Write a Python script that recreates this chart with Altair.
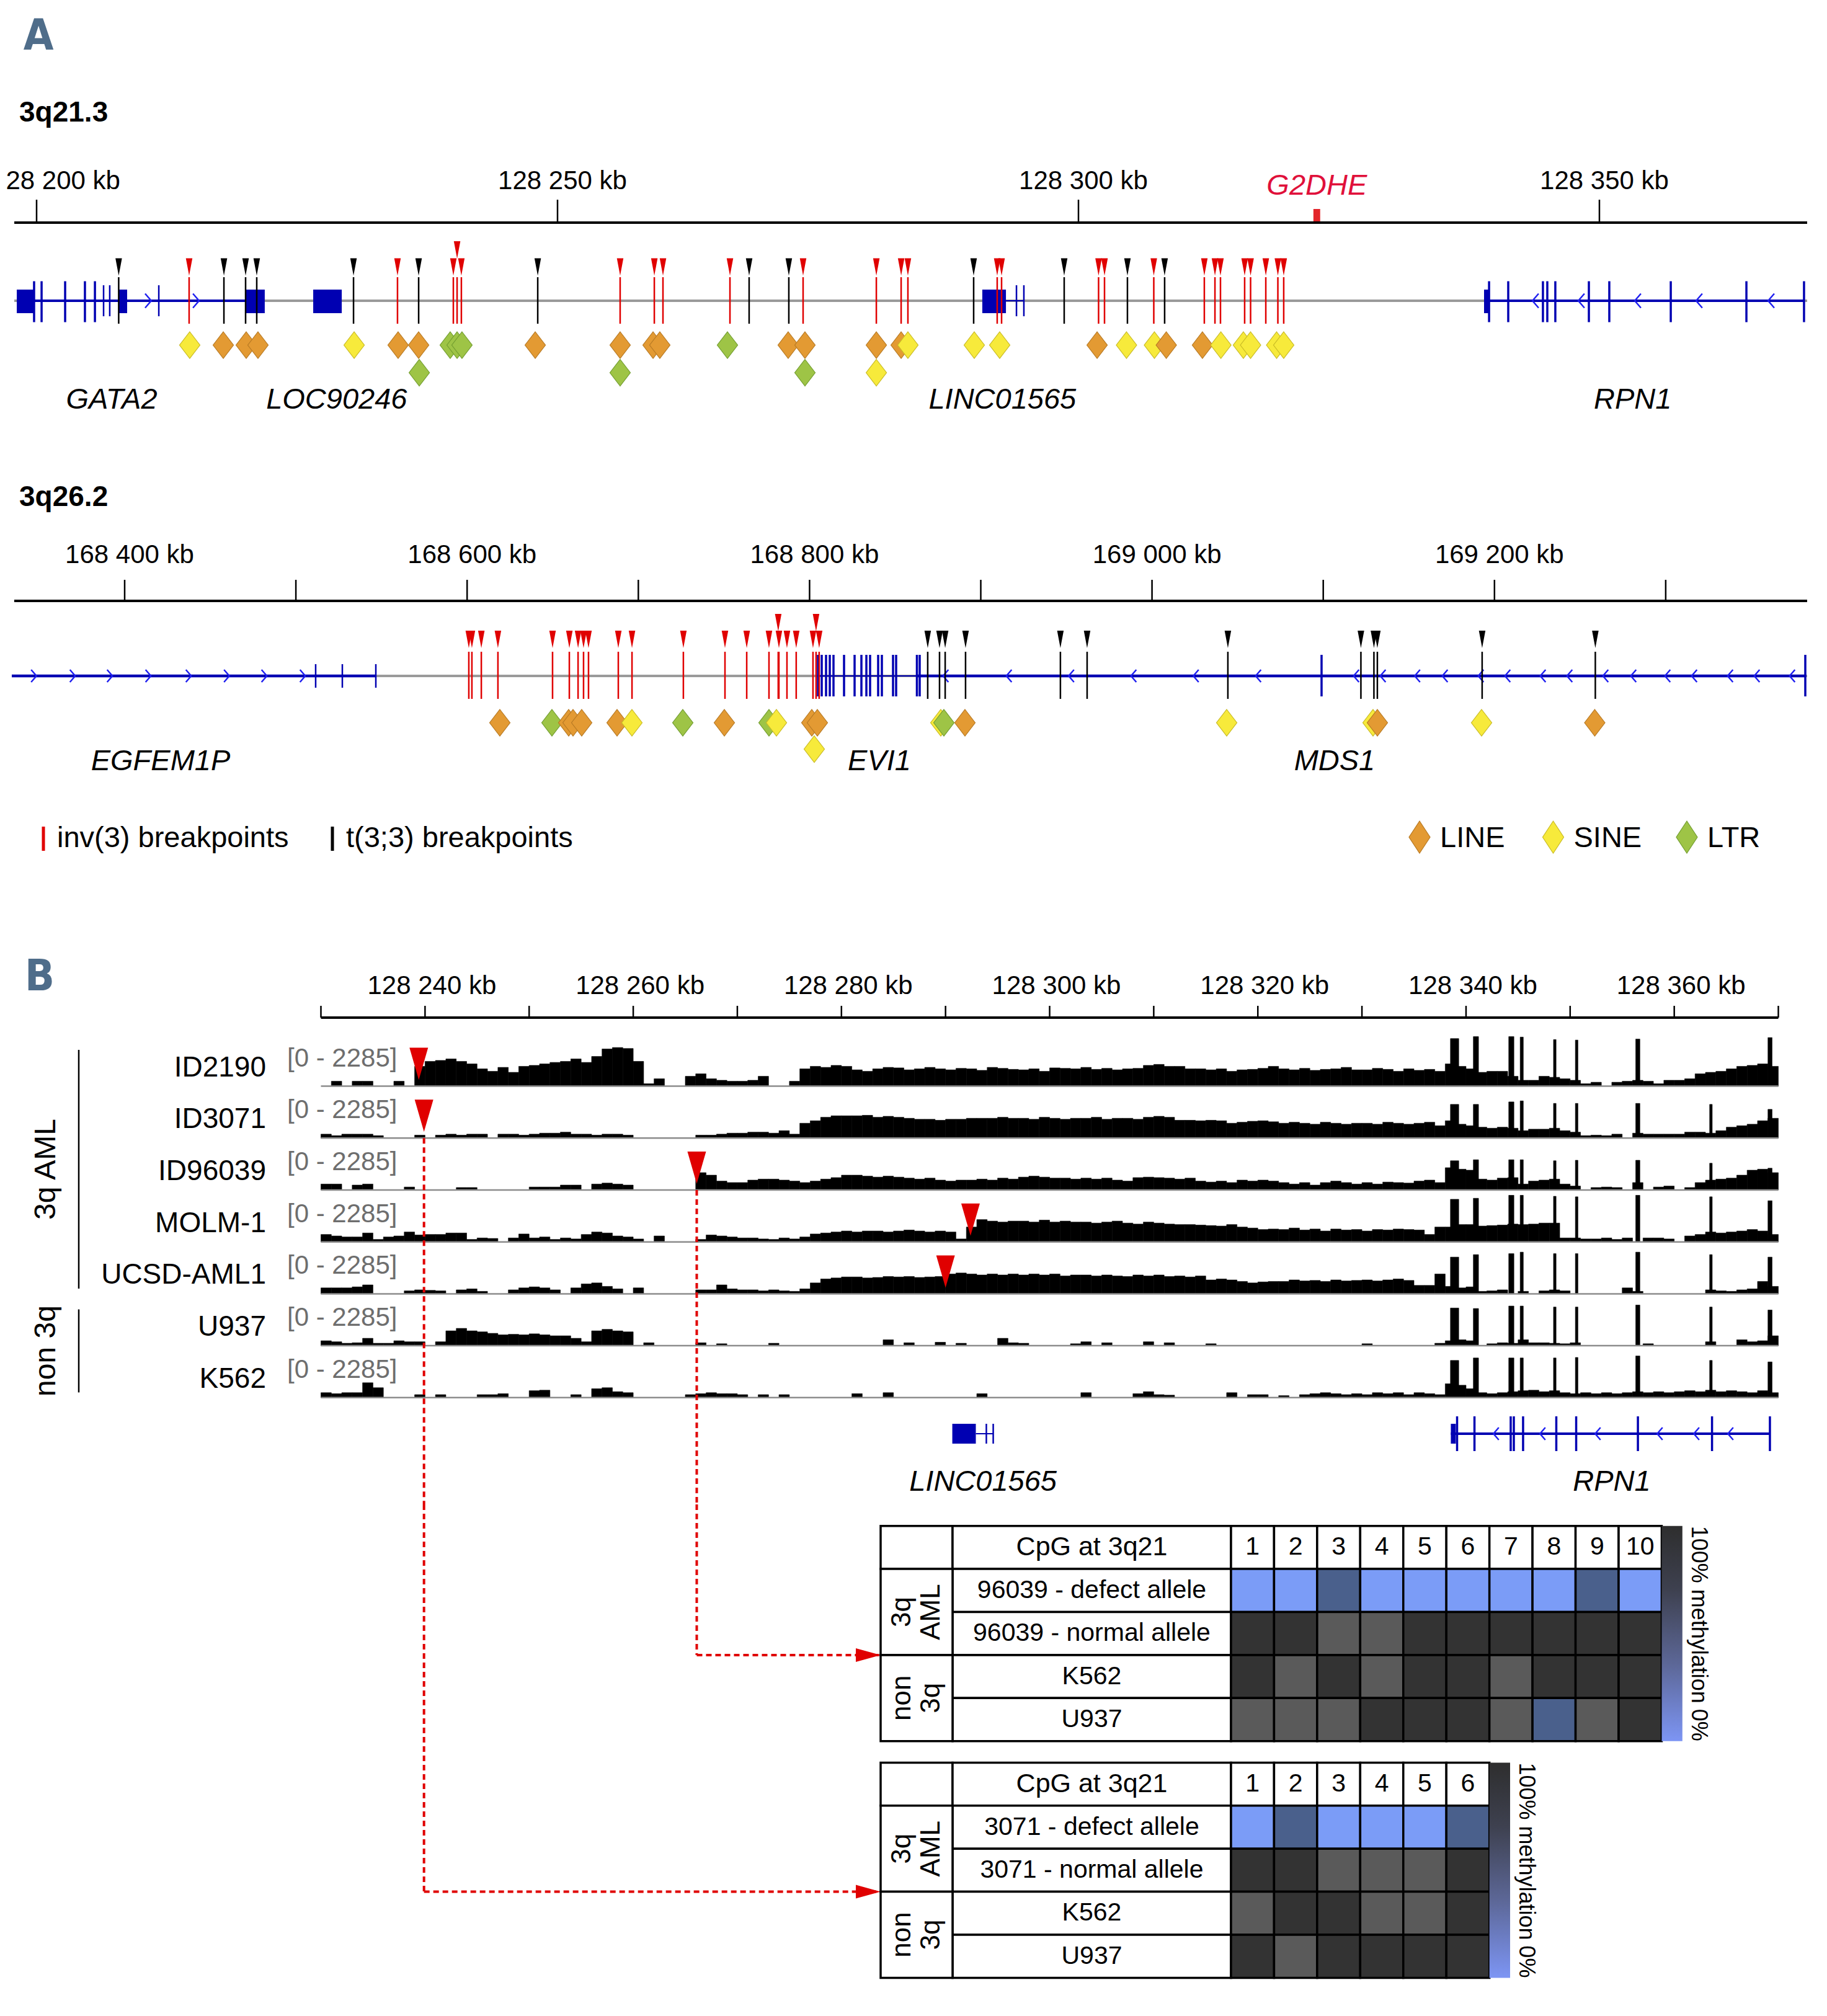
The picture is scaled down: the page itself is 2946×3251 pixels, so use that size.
import altair as alt
import pandas as pd

FONT = "Liberation Sans, Arial, Helvetica, sans-serif"
NARROW = "Liberation Sans Narrow, Arial Narrow, DejaVu Sans Condensed, sans-serif"

# ============================ DATA ============================
PANEL_LETTERS = ["A", "B"]
REGION_TITLES = ["3q21.3", "3q26.2"]
BP_TYPES = ["inv(3)", "t(3;3)"]
BP_LEGEND_TEXT = ["inv(3) breakpoints", "t(3;3) breakpoints"]
REPEAT_CLASSES = ["LINE", "SINE", "LTR"]

# ---------- Panel A, 3q21.3 (kb) ----------
A1_REGION = [128197.86, 128369.94]
A1_TICKS = [128200, 128250, 128300, 128350]
A1_TICK_TEXT = ["128 200 kb", "128 250 kb", "128 300 kb", "128 350 kb"]
A1_ENH_NAME = ["G2DHE"]
A1_ENH_START = [128322.55]
A1_ENH_END = [128323.20]
A1_INV3_KB = [128214.64, 128234.64, 128240.00, 128240.36, 128240.77, 128256.01,
              128259.29, 128260.12, 128266.55, 128273.57, 128280.60, 128282.98,
              128283.63, 128292.20, 128292.62, 128301.93, 128302.50, 128307.23,
              128312.08, 128313.10, 128313.63, 128315.95, 128316.52, 128317.98,
              128319.14, 128319.70]
A1_INV3_TIER = [1, 1, 1, 2, 1, 1, 1, 1, 1, 1, 1, 1, 1,
                1, 1, 1, 1, 1, 1, 1, 1, 1, 1, 1, 1, 1]
A1_T33_KB = [128207.88, 128217.98, 128220.06, 128221.13, 128230.42, 128236.67,
             128248.10, 128268.39, 128272.20, 128289.94, 128298.63, 128304.70,
             128308.27]
A1_T33_TIER = [1, 1, 1, 1, 1, 1, 1, 1, 1, 1, 1, 1, 1]
A1_REP_KB = [128214.70, 128217.92, 128220.12, 128221.25, 128230.48, 128234.70,
             128236.67, 128239.70, 128240.36, 128240.83, 128247.86, 128256.01,
             128259.17, 128259.82, 128266.31, 128272.14, 128273.75, 128280.60,
             128282.98, 128283.63, 128290.00, 128292.44, 128301.79, 128304.61,
             128307.29, 128308.43, 128311.90, 128313.67, 128315.83, 128316.52,
             128319.02, 128319.70,
             128236.73, 128256.01, 128273.75, 128280.60]
A1_REP_CLASS = ["SINE", "LINE", "LINE", "LINE", "SINE", "LINE", "LINE", "LTR", "LTR",
                "LTR", "LINE", "LINE", "LINE", "LINE", "LTR", "LINE", "LINE", "LINE",
                "LINE", "SINE", "SINE", "SINE", "LINE", "SINE", "SINE", "LINE", "LINE",
                "SINE", "SINE", "SINE", "SINE", "SINE",
                "LTR", "LTR", "LTR", "SINE"]
A1_REP_ROW = [1] * 32 + [2, 2, 2, 2]
A1_GENE_NAME = ["GATA2", "LOC90246", "LINC01565", "RPN1"]
A1_GENE_NAME_KB = [128207.2, 128228.8, 128292.7, 128353.2]
A1_INTRON_START = [128198.10, 128338.93]
A1_INTRON_END = [128220.12, 128369.64]
A1_THIN_INTRON_START = [128293.04]
A1_THIN_INTRON_END = [128294.76]
A1_BOX_START = [128198.10, 128207.86, 128220.12, 128226.55, 128290.77, 128338.93]
A1_BOX_END = [128199.76, 128208.69, 128221.90, 128229.29, 128293.04, 128339.35]
A1_EXON_TALL = [128199.76, 128200.48, 128202.74, 128204.64, 128205.60,
                128339.41, 128341.25, 128344.58, 128345.00, 128345.77, 128348.99,
                128350.95, 128356.85, 128364.11, 128369.64]
A1_EXON_SHORT = [128206.43, 128207.02, 128211.73, 128294.05, 128294.76]
A1_STRAND_KB = [128210.71, 128215.30, 128343.87, 128348.27, 128353.69, 128359.58, 128366.49]
A1_STRAND_DIR = ["+", "+", "-", "-", "-", "-", "-"]

# ---------- Panel A, 3q26.2 (kb) ----------
A2_REGION = [168335.5, 169382.6]
A2_TICKS = [168400, 168500, 168600, 168700, 168800, 168900, 169000, 169100, 169200, 169300]
A2_LABEL_TICKS = [168400, 168600, 168800, 169000, 169200]
A2_TICK_TEXT = ["168 400 kb", "168 600 kb", "168 800 kb", "169 000 kb", "169 200 kb"]
A2_INV3_KB = [168601.0, 168602.8, 168608.3, 168618.0, 168649.9, 168659.7, 168664.8,
              168668.0, 168670.9, 168688.3, 168696.3, 168726.3, 168750.6, 168763.3,
              168776.3, 168781.7, 168782.1, 168786.8, 168792.2, 168802.0, 168803.8,
              168805.6]
A2_INV3_TIER = [1, 1, 1, 1, 1, 1, 1, 1, 1, 1, 1, 1, 1, 1, 1, 2, 1, 1, 1, 1, 2, 1]
A2_T33_KB = [168869.0, 168875.9, 168879.2, 168891.1, 168946.5, 168962.1, 169044.3,
             169122.0, 169129.6, 169131.6, 169192.8, 169258.9]
A2_T33_TIER = [1, 1, 1, 1, 1, 1, 1, 1, 1, 1, 1, 1]
A2_REP_KB = [168619.12, 168649.55, 168659.33, 168661.86, 168666.93, 168687.58,
             168696.27, 168725.97, 168750.24, 168776.31, 168780.66, 168801.30,
             168804.56, 168876.64, 168878.45, 168890.76, 169043.61, 169129.08,
             169131.62, 169192.47, 169258.57, 168802.75]
A2_REP_CLASS = ["LINE", "LTR", "LINE", "LINE", "LINE", "LINE", "SINE", "LTR", "LINE",
                "LTR", "SINE", "LINE", "LINE", "SINE", "LTR", "LINE", "SINE", "SINE",
                "LINE", "SINE", "LINE", "SINE"]
A2_REP_ROW = [1] * 21 + [2]
A2_GENE_NAME = ["EGFEM1P", "EVI1", "MDS1"]
A2_GENE_NAME_KB = [168421.0, 168840.8, 169106.6]
A2_INTRON_START = [168334.08, 168862.87]
A2_INTRON_END = [168546.69, 169381.53]
A2_THIN_INTRON_START = [168804.93]
A2_THIN_INTRON_END = [168864.32]
A2_BOX_START = []
A2_BOX_END = []
A2_EXON_TALL = [168804.93, 168807.10, 168809.63, 168811.81, 168813.98, 168820.14,
                168826.30, 168830.28, 168833.18, 168835.35, 168840.06, 168842.23,
                168848.75, 168850.56, 168862.69, 168864.32, 169099.02, 169381.53]
A2_EXON_SHORT = [168511.55, 168527.13, 168546.69]
A2_STRAND_KB = [168346.94, 168369.58, 168391.31, 168413.76, 168437.31, 168459.58,
                168481.49, 168503.95,
                168879.54, 168916.48, 168952.88, 168989.28, 169025.68, 169062.08,
                169119.30, 169134.88, 169154.98, 169171.10, 169192.10, 169207.68,
                169228.32, 169243.90, 169264.90, 169281.20, 169301.12, 169316.70,
                169337.70, 169353.28, 169373.92]
A2_STRAND_DIR = ["+"] * 8 + ["-"] * 21

# ---------- Panel B: coverage tracks over 3q21 ----------
B_REGION = [128230, 128370]
B_TICKS = [128230, 128240, 128250, 128260, 128270, 128280, 128290, 128300,
           128310, 128320, 128330, 128340, 128350, 128360, 128370]
B_LABEL_TICKS = [128240, 128260, 128280, 128300, 128320, 128340, 128360]
B_TICK_TEXT = ["128 240 kb", "128 260 kb", "128 280 kb", "128 300 kb",
               "128 320 kb", "128 340 kb", "128 360 kb"]
SAMPLES = ["ID2190", "ID3071", "ID96039", "MOLM-1", "UCSD-AML1", "U937", "K562"]
SAMPLE_GROUP = ["3q AML", "3q AML", "3q AML", "3q AML", "3q AML", "non 3q", "non 3q"]
TRACK_RANGE_TEXT = "[0 - 2285]"
B_BP_SAMPLE = ["ID2190", "ID3071", "ID96039", "MOLM-1", "UCSD-AML1"]
B_BP_KB = [128239.4, 128239.9, 128266.1, 128292.4, 128290.0]

# coverage in % of the fixed track scale [0 - 2285], 1-kb bins starting at 128230 kb
COV_BIN_START = 128230
COV_BIN_KB = 1
COV_PCT = {
    "ID2190": [0, 10, 0, 10, 10, 0, 0, 10, 0, 40,
               50, 52, 55, 50, 45, 35, 30, 38, 28, 40,
               42, 45, 48, 50, 55, 48, 60, 75, 78, 76,
               50, 5, 15, 0, 0, 20, 25, 15, 12, 10,
               10, 12, 20, 0, 0, 10, 35, 40, 38, 42,
               40, 33, 30, 35, 38, 37, 33, 35, 38, 35,
               33, 36, 35, 32, 38, 36, 34, 33, 35, 30,
               37, 36, 35, 38, 34, 36, 33, 35, 36, 42,
               44, 40, 40, 35, 35, 33, 35, 30, 33, 34,
               36, 40, 35, 33, 36, 32, 34, 35, 38, 33,
               33, 36, 34, 30, 35, 32, 34, 30, 45, 40,
               35, 28, 30, 30, 20, 12, 12, 20, 18, 15,
               12, 5, 8, 0, 8, 10, 12, 10, 5, 12,
               12, 15, 25, 28, 30, 35, 40, 42, 45, 40],
    "ID3071": [8, 5, 8, 8, 8, 5, 0, 0, 0, 6,
               0, 6, 8, 6, 8, 8, 0, 8, 8, 6,
               8, 10, 10, 12, 8, 8, 6, 8, 8, 6,
               0, 0, 0, 0, 0, 0, 6, 6, 8, 10,
               10, 12, 12, 10, 15, 8, 30, 35, 42, 45,
               45, 45, 46, 42, 44, 42, 40, 38, 38, 36,
               38, 38, 40, 40, 40, 42, 40, 40, 38, 42,
               40, 38, 40, 40, 42, 38, 40, 40, 38, 42,
               44, 42, 36, 36, 35, 36, 35, 30, 32, 34,
               35, 33, 30, 32, 30, 28, 32, 30, 28, 30,
               30, 28, 32, 30, 28, 30, 32, 25, 35, 28,
               25, 22, 20, 22, 20, 15, 18, 18, 20, 15,
               12, 5, 6, 5, 8, 0, 10, 8, 8, 8,
               8, 12, 12, 10, 15, 22, 25, 28, 35, 40],
    "ID96039": [12, 12, 0, 10, 12, 0, 0, 0, 6, 0,
                0, 0, 0, 5, 5, 0, 0, 0, 0, 0,
                6, 6, 6, 10, 10, 0, 12, 14, 12, 10,
                0, 0, 0, 0, 0, 0, 35, 30, 18, 15,
                15, 20, 22, 22, 20, 18, 15, 18, 22, 25,
                30, 30, 28, 26, 28, 26, 24, 22, 24, 20,
                18, 20, 20, 22, 20, 24, 22, 26, 28, 26,
                24, 24, 22, 24, 22, 24, 20, 18, 25, 26,
                25, 24, 22, 24, 18, 16, 18, 15, 20, 18,
                20, 18, 15, 12, 15, 10, 15, 18, 15, 12,
                15, 12, 16, 15, 14, 18, 20, 15, 45, 42,
                40, 22, 20, 24, 25, 12, 18, 20, 22, 12,
                8, 0, 5, 6, 5, 0, 15, 0, 6, 8,
                0, 5, 15, 20, 22, 24, 30, 40, 42, 35],
    "MOLM-1": [15, 12, 10, 10, 18, 5, 10, 12, 20, 14,
               15, 15, 18, 18, 5, 8, 7, 0, 8, 16,
               8, 10, 5, 8, 6, 15, 20, 18, 12, 10,
               6, 0, 12, 0, 0, 0, 5, 14, 12, 10,
               8, 8, 6, 5, 8, 6, 10, 16, 18, 20,
               22, 20, 22, 22, 20, 22, 24, 22, 20, 22,
               20, 6, 30, 45, 42, 40, 42, 42, 40, 44,
               40, 42, 40, 40, 38, 40, 42, 38, 36, 40,
               38, 36, 35, 35, 34, 33, 32, 35, 30, 28,
               25, 26, 25, 28, 24, 26, 22, 26, 24, 25,
               22, 25, 24, 26, 25, 24, 15, 30, 30, 35,
               35, 32, 33, 34, 36, 35, 36, 38, 38, 8,
               8, 6, 6, 8, 5, 8, 0, 8, 8, 6,
               0, 12, 15, 20, 18, 20, 22, 25, 22, 15],
    "UCSD-AML1": [12, 12, 12, 14, 18, 0, 0, 0, 6, 8,
                  7, 6, 0, 8, 10, 5, 0, 0, 8, 12,
                  14, 12, 8, 0, 12, 20, 22, 15, 10, 0,
                  12, 0, 0, 0, 0, 0, 8, 8, 18, 10,
                  8, 8, 6, 8, 6, 5, 10, 22, 30, 32,
                  34, 34, 32, 33, 35, 34, 35, 33, 34, 35,
                  40, 42, 40, 38, 40, 38, 40, 38, 40, 38,
                  40, 36, 38, 38, 36, 38, 36, 35, 38, 36,
                  38, 35, 36, 34, 36, 28, 30, 28, 25, 22,
                  24, 25, 25, 28, 26, 27, 25, 28, 26, 27,
                  28, 26, 28, 30, 27, 17, 17, 40, 15, 12,
                  14, 5, 6, 8, 0, 5, 0, 6, 8, 6,
                  0, 0, 0, 0, 0, 12, 5, 0, 0, 0,
                  0, 0, 0, 8, 6, 5, 8, 10, 25, 15],
    "U937": [10, 8, 5, 6, 15, 5, 5, 10, 8, 8,
             0, 8, 30, 35, 30, 28, 25, 22, 23, 22,
             24, 22, 20, 20, 15, 8, 30, 33, 30, 28,
             0, 6, 0, 0, 0, 0, 6, 0, 4, 0,
             0, 0, 0, 5, 0, 0, 0, 0, 0, 0,
             0, 0, 0, 0, 12, 0, 6, 0, 0, 7,
             0, 5, 0, 0, 0, 15, 6, 5, 0, 0,
             0, 0, 4, 8, 0, 6, 0, 0, 0, 8,
             0, 6, 0, 0, 0, 4, 0, 0, 0, 0,
             0, 0, 0, 0, 0, 0, 0, 0, 0, 0,
             4, 0, 0, 0, 0, 0, 0, 5, 10, 12,
             10, 0, 4, 6, 5, 12, 6, 6, 5, 4,
             6, 0, 0, 0, 0, 0, 0, 4, 0, 0,
             0, 0, 0, 8, 0, 0, 12, 8, 10, 20],
    "K562": [10, 8, 10, 10, 30, 20, 0, 0, 0, 6,
             0, 6, 0, 0, 0, 6, 6, 8, 0, 0,
             14, 15, 0, 0, 6, 0, 18, 20, 12, 10,
             0, 0, 0, 0, 0, 6, 8, 10, 8, 8,
             6, 0, 6, 0, 6, 0, 0, 0, 0, 0,
             0, 8, 0, 0, 10, 0, 0, 0, 0, 0,
             0, 0, 0, 8, 0, 0, 0, 0, 0, 0,
             0, 0, 0, 10, 0, 0, 0, 0, 8, 12,
             6, 5, 0, 0, 0, 0, 0, 10, 0, 6,
             6, 0, 4, 0, 6, 8, 10, 8, 6, 8,
             6, 10, 8, 10, 6, 10, 8, 6, 28, 25,
             18, 10, 8, 10, 12, 14, 15, 12, 14, 10,
             8, 10, 8, 10, 8, 10, 12, 10, 12, 10,
             12, 14, 12, 15, 12, 14, 12, 10, 14, 10],
}
# narrow exon peaks (RPN1 exons), kb
SPIKE_START = [128338.50, 128340.70, 128344.10, 128345.20, 128348.40, 128350.50, 128356.30, 128363.40, 128369.00]
SPIKE_END = [128339.30, 128341.20, 128344.60, 128345.50, 128348.65, 128350.75, 128356.70, 128363.65, 128369.40]
SPIKE_PCT = {
    "ID2190": [96, 100, 100, 99, 94, 93, 95, 0, 98],
    "ID3071": [68, 68, 73, 75, 70, 70, 70, 68, 58],
    "ID96039": [59, 61, 61, 61, 59, 60, 60, 54, 44],
    "MOLM-1": [86, 88, 94, 94, 92, 91, 94, 91, 83],
    "UCSD-AML1": [74, 79, 81, 84, 81, 81, 84, 79, 74],
    "U937": [76, 75, 80, 80, 78, 78, 82, 78, 72],
    "K562": [75, 80, 80, 80, 80, 81, 84, 75, 72],
}
B_GENE_NAME = ["LINC01565", "RPN1"]
B_GENE_NAME_KB = [128293.6, 128354.0]
B_INTRON_START = [128338.54]
B_INTRON_END = [128369.19]
B_THIN_INTRON_START = [128292.91]
B_THIN_INTRON_END = [128294.58]
B_BOX_START = [128290.65, 128338.54]
B_BOX_END = [128292.91, 128339.02]
B_EXON_TALL = [128339.14, 128340.81, 128344.29, 128344.59, 128345.48, 128348.67,
               128350.58, 128356.51, 128363.63, 128369.19]
B_EXON_SHORT = [128293.92, 128294.58]
B_STRAND_KB = [128342.89, 128347.36, 128352.66, 128358.62, 128362.14, 128365.41]
B_STRAND_DIR = ["-", "-", "-", "-", "-", "-"]

# ---------- methylation tables ----------
HM_HEADER = "CpG at 3q21"
HM_GROUPS = ["3q AML", "3q AML", "non 3q", "non 3q"]
HM1_ROWS = ["96039 - defect allele", "96039 - normal allele", "K562", "U937"]
HM1_METH = [[0, 0, 35, 0, 0, 0, 0, 0, 35, 0],
            [100, 100, 70, 70, 100, 100, 100, 100, 100, 100],
            [100, 70, 100, 70, 100, 100, 70, 100, 100, 100],
            [70, 70, 70, 100, 100, 100, 70, 35, 70, 100]]
HM2_ROWS = ["3071 - defect allele", "3071 - normal allele", "K562", "U937"]
HM2_METH = [[0, 35, 0, 0, 0, 35],
            [100, 100, 70, 70, 70, 100],
            [70, 100, 100, 70, 70, 100],
            [100, 70, 100, 100, 100, 100]]
CBAR_TOP_TEXT = "100% methylation"
CBAR_BOTTOM_TEXT = "0%"
CONNECT_SAMPLE = ["ID96039", "ID3071"]
CONNECT_TABLE = [0, 1]

# ============================ STYLE / LAYOUT ============================
W = 2930
H_A1, H_A2, H_LEG, H_BT, H_BB = 692, 570, 160, 996, 817
RED = "#E00000"
GENE_BLUE = "#0000B2"
ARROW_BLUE = "#2020F0"
GREY = "#9A9A9A"
SLATE = "#4F6D8A"
BP_COLOR = alt.Scale(domain=BP_TYPES, range=[RED, "#000000"])
REP_FILL = alt.Scale(domain=REPEAT_CLASSES, range=["#E39A33", "#F7EA3B", "#9EC446"])
REP_LINE = alt.Scale(domain=REPEAT_CLASSES, range=["#B87A24", "#C9BB25", "#739E30"])
HM_COLOR = alt.Scale(domain=[0, 35, 70, 100], range=["#7B9CF7", "#4A608C", "#5A5A5A", "#333333"])

TRI_A = "M-0.375,-1L0.375,-1L0,1Z"
TRI_B = "M-0.577,-1L0.577,-1L0,1Z"
DIAMOND = "M0,-1L0.767,0L0,1L-0.767,0Z"
DIAMOND_LEG = "M0,-1L0.654,0L0,1L-0.654,0Z"
CHEV_R = "M-0.43,-1L0.43,0L-0.43,1"
CHEV_L = "M0.43,-1L-0.43,0L0.43,1"
ARROW_R = "M-1,-0.55L1,0L-1,0.55Z"


def kb_domain(anchor_kb, anchor_px, px_per_kb, width_px):
    return [anchor_kb - anchor_px / px_per_kb, anchor_kb + (width_px - anchor_px) / px_per_kb]


def scale_of(dom):
    return alt.Scale(domain=dom, nice=False, zero=False)


def text_at(t, x, y, size, **kw):
    kw.setdefault("font", FONT)
    kw.setdefault("baseline", "middle")
    return alt.Chart(pd.DataFrame({"t": [t]})).mark_text(fontSize=size, **kw).encode(
        x=alt.value(x), y=alt.value(y), text="t:N")


def gene_layers(sc, Y, introns, thin, boxes, tall, short, strands, thick_w):
    X = lambda f: alt.X(f + ":Q", scale=sc, axis=None)
    L = []
    L.append(alt.Chart(introns).mark_rule(color=GENE_BLUE, strokeWidth=thick_w).encode(
        x=X("start"), x2="end:Q", y=alt.value(Y["gene"])))
    L.append(alt.Chart(thin).mark_rule(color=GENE_BLUE, strokeWidth=2).encode(
        x=X("start"), x2="end:Q", y=alt.value(Y["gene"])))
    if len(boxes):
        L.append(alt.Chart(boxes).mark_rect(color=GENE_BLUE).encode(
            x=X("start"), x2="end:Q", y=alt.value(Y["box"][0]), y2=alt.value(Y["box"][1])))
    L.append(alt.Chart(tall).mark_rule(color=GENE_BLUE, strokeWidth=3.5).encode(
        x=X("kb"), y=alt.value(Y["tall"][0]), y2=alt.value(Y["tall"][1])))
    L.append(alt.Chart(short).mark_rule(color=GENE_BLUE, strokeWidth=2.5).encode(
        x=X("kb"), y=alt.value(Y["short"][0]), y2=alt.value(Y["short"][1])))
    L.append(alt.Chart(strands).mark_point(filled=False, opacity=1, strokeWidth=2.5,
                                           color=ARROW_BLUE, size=Y["chev"]).encode(
        x=X("kb"), y=alt.value(Y["gene"]),
        shape=alt.Shape("dir:N", scale=alt.Scale(domain=["+", "-"], range=[CHEV_R, CHEV_L]), legend=None)))
    return L


def region_panel(dom, height, Y, title, region, ticks, lab_ticks, tick_text,
                 inv_kb, inv_tier, t_kb, t_tier, rep_kb, rep_cls, rep_row,
                 introns, thin, boxes, tall, short, strands, names, names_kb,
                 letter=None, enh=None, edge_label_dx=None):
    sc = scale_of(dom)
    X = lambda f: alt.X(f + ":Q", scale=sc, axis=None)
    reg = pd.DataFrame({"start": [region[0]], "end": [region[1]]})
    L = []
    if letter is not None:
        L.append(text_at(letter, 54, 51, 70, font=NARROW, fontWeight="bold", color=SLATE))
    L.append(text_at(title, 23, Y["title"], 46, fontWeight="bold", align="left"))
    L.append(alt.Chart(reg).mark_rule(color="black", strokeWidth=4).encode(
        x=X("start"), x2="end:Q", y=alt.value(Y["axis"])))
    L.append(alt.Chart(pd.DataFrame({"kb": ticks})).mark_rule(color="black", strokeWidth=2.5).encode(
        x=X("kb"), y=alt.value(Y["tick_top"]), y2=alt.value(Y["axis"])))
    labs = pd.DataFrame({"kb": lab_ticks, "label": tick_text})
    if edge_label_dx is not None:
        # the left-most label sits on the cut edge of the figure
        L.append(alt.Chart(labs.iloc[:1]).mark_text(
            font=FONT, fontSize=42, dx=edge_label_dx, baseline="middle", clip=True).encode(
            x=X("kb"), y=alt.value(Y["tick_lab"]), text="label:N"))
        labs = labs.iloc[1:]
    L.append(alt.Chart(labs).mark_text(
        font=FONT, fontSize=42, dx=8, baseline="middle", clip=True).encode(
        x=X("kb"), y=alt.value(Y["tick_lab"]), text="label:N"))
    if enh is not None:
        L.append(alt.Chart(enh).mark_rect(color="#E3262B").encode(
            x=X("start"), x2="end:Q", y=alt.value(Y["enh_top"]), y2=alt.value(Y["axis"] - 2)))
        L.append(alt.Chart(enh).transform_calculate(mid="(datum.start + datum.end) / 2").mark_text(
            font=FONT, fontSize=47, fontStyle="italic", color="#E0103A", baseline="middle").encode(
            x=X("mid"), y=alt.value(Y["enh_lab"]), text="name:N"))
    L.append(alt.Chart(reg).mark_rule(color=GREY, strokeWidth=4).encode(
        x=X("start"), x2="end:Q", y=alt.value(Y["gene"])))
    L += gene_layers(sc, Y, introns, thin, boxes, tall, short, strands, Y["thick"])
    bps = pd.concat([
        pd.DataFrame({"kb": inv_kb, "type": BP_TYPES[0], "tier": inv_tier}),
        pd.DataFrame({"kb": t_kb, "type": BP_TYPES[1], "tier": t_tier})], ignore_index=True)
    col = alt.Color("type:N", scale=BP_COLOR, legend=None)
    L.append(alt.Chart(bps).mark_rule(strokeWidth=2.5).encode(
        x=X("kb"), y=alt.value(Y["bp"][0]), y2=alt.value(Y["bp"][1]), color=col))
    L.append(alt.Chart(bps).mark_point(shape=TRI_A, size=784, filled=True, opacity=1, strokeWidth=0).encode(
        x=X("kb"), color=col,
        y=alt.Y("tier:Q", scale=alt.Scale(domain=[1, 2], range=list(Y["tier"]), nice=False, zero=False), axis=None)))
    reps = pd.DataFrame({"kb": rep_kb, "cls": rep_cls, "row": rep_row})
    L.append(alt.Chart(reps).mark_point(shape=DIAMOND, size=1849, filled=True, opacity=1, strokeWidth=1.2).encode(
        x=X("kb"),
        y=alt.Y("row:Q", scale=alt.Scale(domain=[1, 2], range=list(Y["rep"]), nice=False, zero=False), axis=None),
        fill=alt.Fill("cls:N", scale=REP_FILL, legend=None),
        stroke=alt.Stroke("cls:N", scale=REP_LINE, legend=None)))
    L.append(alt.Chart(pd.DataFrame({"name": names, "kb": names_kb})).mark_text(
        font=FONT, fontSize=47, fontStyle="italic", baseline="middle").encode(
        x=X("kb"), y=alt.value(Y["names"]), text="name:N"))
    return alt.layer(*L).properties(width=W, height=height).resolve_scale(y="independent")


def gene_frames(i_s, i_e, t_s, t_e, b_s, b_e, tall, short, s_kb, s_dir):
    return (pd.DataFrame({"start": i_s, "end": i_e}),
            pd.DataFrame({"start": t_s, "end": t_e}),
            pd.DataFrame({"start": b_s, "end": b_e}),
            pd.DataFrame({"kb": tall}),
            pd.DataFrame({"kb": short}),
            pd.DataFrame({"kb": s_kb, "dir": s_dir}))


# ---------------- Panel A charts ----------------
Y_A1 = dict(title=174, tick_lab=284, tick_top=314, axis=351, enh_lab=292, enh_top=329,
            tier=(422.5, 395), bp=(439, 514), gene=477, box=(459, 497),
            tall=(445.5, 511.5), short=(452, 502), rep=(548.5, 593), names=637,
            chev=529, thick=4)
Y_A2 = dict(title=102, tick_lab=195, tick_top=235, axis=269,
            tier=(331, 304), bp=(351, 427), gene=390, box=(371, 409),
            tall=(356, 423), short=(371, 409), rep=(465.5, 508), names=528,
            chev=400, thick=4.5)

g1 = gene_frames(A1_INTRON_START, A1_INTRON_END, A1_THIN_INTRON_START, A1_THIN_INTRON_END,
                 A1_BOX_START, A1_BOX_END, A1_EXON_TALL, A1_EXON_SHORT, A1_STRAND_KB, A1_STRAND_DIR)
enh = pd.DataFrame({"name": A1_ENH_NAME, "start": A1_ENH_START, "end": A1_ENH_END})
a1 = region_panel(kb_domain(128200, 51, 16.8, W), H_A1, Y_A1, REGION_TITLES[0], A1_REGION,
                  A1_TICKS, A1_TICKS, A1_TICK_TEXT, A1_INV3_KB, A1_INV3_TIER, A1_T33_KB, A1_T33_TIER,
                  A1_REP_KB, A1_REP_CLASS, A1_REP_ROW, *g1, A1_GENE_NAME, A1_GENE_NAME_KB,
                  letter=PANEL_LETTERS[0], enh=enh, edge_label_dx=31)

g2 = gene_frames(A2_INTRON_START, A2_INTRON_END, A2_THIN_INTRON_START, A2_THIN_INTRON_END,
                 A2_BOX_START, A2_BOX_END, A2_EXON_TALL, A2_EXON_SHORT, A2_STRAND_KB, A2_STRAND_DIR)
a2 = region_panel(kb_domain(168400, 193, 2.761, W), H_A2, Y_A2, REGION_TITLES[1], A2_REGION,
                  A2_TICKS, A2_LABEL_TICKS, A2_TICK_TEXT, A2_INV3_KB, A2_INV3_TIER, A2_T33_KB, A2_T33_TIER,
                  A2_REP_KB, A2_REP_CLASS, A2_REP_ROW, *g2, A2_GENE_NAME, A2_GENE_NAME_KB)

# ---------------- legend ----------------
leg_bp = pd.DataFrame({"i": [0, 1], "type": BP_TYPES, "label": BP_LEGEND_TEXT})
leg_rep = pd.DataFrame({"i": [0, 1, 2], "cls": REPEAT_CLASSES})
xl1 = alt.Scale(domain=[0, 1], range=[62, 528], nice=False, zero=False)
xl2 = alt.Scale(domain=[0, 2], range=[2281, 2712], nice=False, zero=False)
legend = alt.layer(
    alt.Chart(leg_bp).mark_rule(strokeWidth=5).encode(
        x=alt.X("i:Q", scale=xl1, axis=None), y=alt.value(63), y2=alt.value(102),
        color=alt.Color("type:N", scale=BP_COLOR, legend=None)),
    alt.Chart(leg_bp).mark_text(font=FONT, fontSize=47, align="left", baseline="middle", dx=22).encode(
        x=alt.X("i:Q", scale=xl1, axis=None), y=alt.value(82), text="label:N"),
    alt.Chart(leg_rep).mark_point(shape=DIAMOND_LEG, size=2704, filled=True, opacity=1, strokeWidth=1.2).encode(
        x=alt.X("i:Q", scale=xl2, axis=None), y=alt.value(80),
        fill=alt.Fill("cls:N", scale=REP_FILL, legend=None),
        stroke=alt.Stroke("cls:N", scale=REP_LINE, legend=None)),
    alt.Chart(leg_rep).mark_text(font=FONT, fontSize=47, align="left", baseline="middle", dx=33).encode(
        x=alt.X("i:Q", scale=xl2, axis=None), y=alt.value(82), text="cls:N"),
).properties(width=W, height=H_LEG).resolve_scale(x="independent")

# ---------------- Panel B: tracks ----------------
ROW_PX = 83.7
TRACK_FRAC = 80 / ROW_PX
BASE0 = 321.6
XB_DOM = kb_domain(128230, 509.5, 16.786, W)
XB = scale_of(XB_DOM)
YR = alt.Scale(domain=[0, 7], range=[BASE0 - ROW_PX, BASE0 + 6 * ROW_PX], nice=False, zero=False)
XBf = lambda f: alt.X(f + ":Q", scale=XB, axis=None)
YRf = lambda f: alt.Y(f + ":Q", scale=YR, axis=None)

cov_rows = []
for k, s in enumerate(SAMPLES):
    for i, p in enumerate(COV_PCT[s]):
        if p > 0:
            cov_rows.append(dict(sample=s, start=COV_BIN_START + i * COV_BIN_KB,
                                 end=COV_BIN_START + (i + 1) * COV_BIN_KB,
                                 base=k + 1, top=k + 1 - p / 100 * TRACK_FRAC))
    for j, p in enumerate(SPIKE_PCT[s]):
        if p > 0:
            cov_rows.append(dict(sample=s, start=SPIKE_START[j], end=SPIKE_END[j],
                                 base=k + 1, top=k + 1 - p / 100 * TRACK_FRAC))
cov = pd.DataFrame(cov_rows)
tracks = pd.DataFrame({"sample": SAMPLES, "group": SAMPLE_GROUP, "row": range(len(SAMPLES))})
tracks["base"] = tracks["row"] + 1
tracks["ylab"] = tracks["base"] - 30 / ROW_PX
tracks["yrng"] = tracks["base"] - 45 / ROW_PX
tracks["start"] = B_REGION[0]
tracks["end"] = B_REGION[1]
tracks["rng"] = TRACK_RANGE_TEXT
grp = tracks.groupby("group", sort=False)["row"].agg(["min", "max"]).reset_index()
grp["y0"] = grp["min"] + 0.3
grp["y1"] = grp["max"] + 0.9
grp["ym"] = (grp["y0"] + grp["y1"]) / 2
bpB = pd.DataFrame({"sample": B_BP_SAMPLE, "kb": B_BP_KB})
bpB = bpB.merge(tracks[["sample", "row"]], on="sample")
bpB["ytri"] = bpB["row"] + 1 - 36 / ROW_PX
bpB["ybase"] = bpB["row"] + 1
conn = pd.DataFrame({"sample": CONNECT_SAMPLE, "table": CONNECT_TABLE}).merge(bpB, on="sample")

Y_B = dict(gene=882, box=(866, 898), tall=(854, 910), short=(866, 898), chev=400)
gB = gene_frames(B_INTRON_START, B_INTRON_END, B_THIN_INTRON_START, B_THIN_INTRON_END,
                 B_BOX_START, B_BOX_END, B_EXON_TALL, B_EXON_SHORT, B_STRAND_KB, B_STRAND_DIR)
regB = pd.DataFrame({"start": [B_REGION[0]], "end": [B_REGION[1]]})

LB = [
    text_at(PANEL_LETTERS[1], 56, 146, 70, font=NARROW, fontWeight="bold", color=SLATE),
    alt.Chart(regB).mark_rule(color="black", strokeWidth=4).encode(x=XBf("start"), x2="end:Q", y=alt.value(211)),
    alt.Chart(pd.DataFrame({"kb": B_TICKS})).mark_rule(color="black", strokeWidth=2.5).encode(
        x=XBf("kb"), y=alt.value(192), y2=alt.value(211)),
    alt.Chart(pd.DataFrame({"kb": B_LABEL_TICKS, "label": B_TICK_TEXT})).mark_text(
        font=FONT, fontSize=42, dx=11, baseline="middle").encode(
        x=XBf("kb"), y=alt.value(160), text="label:N"),
    alt.Chart(cov).mark_rect(color="black", stroke="black", strokeWidth=0.6).encode(
        x=XBf("start"), x2="end:Q", y=YRf("base"), y2="top:Q"),
    alt.Chart(tracks).mark_rule(color="#8C8C8C", strokeWidth=2.5).encode(
        x=XBf("start"), x2="end:Q", y=YRf("base")),
    alt.Chart(conn).mark_rule(color=RED, strokeWidth=4, strokeDash=[9, 6]).encode(
        x=XBf("kb"), y=YRf("ybase"), y2=alt.value(H_BT)),
    alt.Chart(bpB).mark_point(shape=TRI_B, size=2704, filled=True, opacity=1, color=RED, strokeWidth=0).encode(
        x=XBf("kb"), y=YRf("ytri")),
    alt.Chart(tracks).mark_text(font=FONT, fontSize=46, align="right", baseline="middle").encode(
        x=alt.value(421), y=YRf("ylab"), text="sample:N"),
    alt.Chart(tracks).mark_text(font=FONT, fontSize=42, align="left", baseline="middle", color="#6E6E6E").encode(
        x=alt.value(455), y=YRf("yrng"), text="rng:N"),
    alt.Chart(grp).mark_rule(color="black", strokeWidth=2.5).encode(
        x=alt.value(119), y=YRf("y0"), y2="y1:Q"),
    alt.Chart(grp).mark_text(font=FONT, fontSize=48, angle=270, align="center", baseline="middle").encode(
        x=alt.value(67), y=YRf("ym"), text="group:N"),
]
LB += gene_layers(XB, Y_B, *gB, 4)
LB.append(alt.Chart(pd.DataFrame({"name": B_GENE_NAME, "kb": B_GENE_NAME_KB})).mark_text(
    font=FONT, fontSize=47, fontStyle="italic", baseline="middle").encode(
    x=XBf("kb"), y=alt.value(960), text="name:N"))
b_tracks = alt.layer(*LB).properties(width=W, height=H_BT)

# ---------------- Panel B: methylation tables + connectors ----------------
HM_UX, HM_UY = 69.45, 69.4
CONN_W = 1412
HM_W = W - CONN_W
GROUP_W, LABEL_W, CBAR_W = 1.67, 6.465, 0.48
CELL0 = GROUP_W + LABEL_W
HM_TOP = [0.5, 6.0]
YS = alt.Scale(domain=[0, H_BB / HM_UY], range=[0, H_BB], nice=False, zero=False)
Ysf = lambda f: alt.Y(f + ":Q", scale=YS, axis=None)

conn_dom = kb_domain(128230, 509.5, 16.786, CONN_W)
XC = scale_of(conn_dom)
conn2 = conn.copy()
conn2["y_top"] = 0.0
conn2["y_end"] = [HM_TOP[t] + 3 for t in conn2["table"]]
conn2["x_end"] = conn_dom[1]
connector = alt.layer(
    alt.Chart(conn2).mark_rule(color=RED, strokeWidth=4, strokeDash=[9, 6]).encode(
        x=alt.X("kb:Q", scale=XC, axis=None), y=Ysf("y_top"), y2="y_end:Q"),
    alt.Chart(conn2).mark_rule(color=RED, strokeWidth=4, strokeDash=[9, 6]).encode(
        x=alt.X("kb:Q", scale=XC, axis=None), x2="x_end:Q", y=Ysf("y_end")),
    alt.Chart(conn2).mark_point(shape=ARROW_R, size=1600, filled=True, opacity=1, color=RED,
                                strokeWidth=0, xOffset=-20).encode(
        x=alt.X("x_end:Q", scale=XC, axis=None), y=Ysf("y_end")),
).properties(width=CONN_W, height=H_BB)

white, heat, cbar, txt, gtxt, ctop, cbot = [], [], [], [], [], [], []
for t, (rows, meth) in enumerate([(HM1_ROWS, HM1_METH), (HM2_ROWS, HM2_METH)]):
    top = HM_TOP[t]
    n = len(meth[0])
    white.append(dict(x=0, x2=GROUP_W, y=top, y2=top + 1))
    white.append(dict(x=GROUP_W, x2=CELL0, y=top, y2=top + 1))
    txt.append(dict(x=GROUP_W + LABEL_W / 2, y=top + 0.5, t=HM_HEADER, size=43))
    for c in range(n):
        white.append(dict(x=CELL0 + c, x2=CELL0 + c + 1, y=top, y2=top + 1))
        txt.append(dict(x=CELL0 + c + 0.5, y=top + 0.5, t=str(c + 1), size=41))
    for r, lab in enumerate(rows):
        white.append(dict(x=GROUP_W, x2=CELL0, y=top + 1 + r, y2=top + 2 + r))
        txt.append(dict(x=GROUP_W + LABEL_W / 2, y=top + 1.5 + r, t=lab, size=41))
        for c in range(n):
            heat.append(dict(x=CELL0 + c, x2=CELL0 + c + 1, y=top + 1 + r, y2=top + 2 + r, meth=meth[r][c]))
    r0 = 0
    while r0 < len(HM_GROUPS):
        r1 = r0
        while r1 + 1 < len(HM_GROUPS) and HM_GROUPS[r1 + 1] == HM_GROUPS[r0]:
            r1 += 1
        white.append(dict(x=0, x2=GROUP_W, y=top + 1 + r0, y2=top + 2 + r1))
        gtxt.append(dict(x=GROUP_W / 2, y=top + 1 + (r0 + r1 + 1) / 2, t=HM_GROUPS[r0].replace(" ", "\n")))
        r0 = r1 + 1
    cbar.append(dict(x=CELL0 + n, x2=CELL0 + n + CBAR_W, y=top, y2=top + 1 + len(rows)))
    ctop.append(dict(x=CELL0 + n + CBAR_W + 0.37, y=top, t=CBAR_TOP_TEXT))
    cbot.append(dict(x=CELL0 + n + CBAR_W + 0.37, y=top + 1 + len(rows), t=CBAR_BOTTOM_TEXT))

XH = alt.Scale(domain=[0, HM_W / HM_UX], nice=False, zero=False)
Xhf = lambda f: alt.X(f + ":Q", scale=XH, axis=None)
grad = alt.LinearGradient(gradient="linear", x1=0, x2=0, y1=1, y2=0, stops=[
    alt.GradientStop(color="#7D95F4", offset=0),
    alt.GradientStop(color="#5D6899", offset=0.35),
    alt.GradientStop(color="#3E4150", offset=0.7),
    alt.GradientStop(color="#2E2E2E", offset=1)])
txt_df = pd.DataFrame(txt)
heatmaps = alt.layer(
    alt.Chart(pd.DataFrame(white)).mark_rect(fill="white", stroke="black", strokeWidth=3.5).encode(
        x=Xhf("x"), x2="x2:Q", y=Ysf("y"), y2="y2:Q"),
    alt.Chart(pd.DataFrame(heat)).mark_rect(stroke="black", strokeWidth=3.5).encode(
        x=Xhf("x"), x2="x2:Q", y=Ysf("y"), y2="y2:Q",
        fill=alt.Fill("meth:Q", scale=HM_COLOR, legend=None)),
    alt.Chart(pd.DataFrame(cbar)).mark_rect(fill=grad).encode(
        x=Xhf("x"), x2="x2:Q", y=Ysf("y"), y2="y2:Q"),
    alt.Chart(txt_df[txt_df["size"] == 43]).mark_text(font=FONT, fontSize=43, baseline="middle").encode(
        x=Xhf("x"), y=Ysf("y"), text="t:N"),
    alt.Chart(txt_df[txt_df["size"] == 41]).mark_text(font=FONT, fontSize=41, baseline="middle").encode(
        x=Xhf("x"), y=Ysf("y"), text="t:N"),
    alt.Chart(pd.DataFrame(gtxt)).mark_text(font=FONT, fontSize=44, angle=270, baseline="middle",
                                            lineBreak="\n", lineHeight=47, dy=-23).encode(
        x=Xhf("x"), y=Ysf("y"), text="t:N"),
    alt.Chart(pd.DataFrame(ctop)).mark_text(font=FONT, fontSize=36, angle=90, align="left", baseline="middle").encode(
        x=Xhf("x"), y=Ysf("y"), text="t:N"),
    alt.Chart(pd.DataFrame(cbot)).mark_text(font=FONT, fontSize=36, angle=90, align="right", baseline="middle").encode(
        x=Xhf("x"), y=Ysf("y"), text="t:N"),
).properties(width=HM_W, height=H_BB)

b_bottom = alt.hconcat(connector, heatmaps, spacing=0, bounds="flush")

chart = alt.vconcat(a1, a2, legend, b_tracks, b_bottom, spacing=0, bounds="flush").properties(
    padding=0).configure_view(stroke=None)

chart.save("out.html", embed_options={"renderer": "svg", "actions": False})
